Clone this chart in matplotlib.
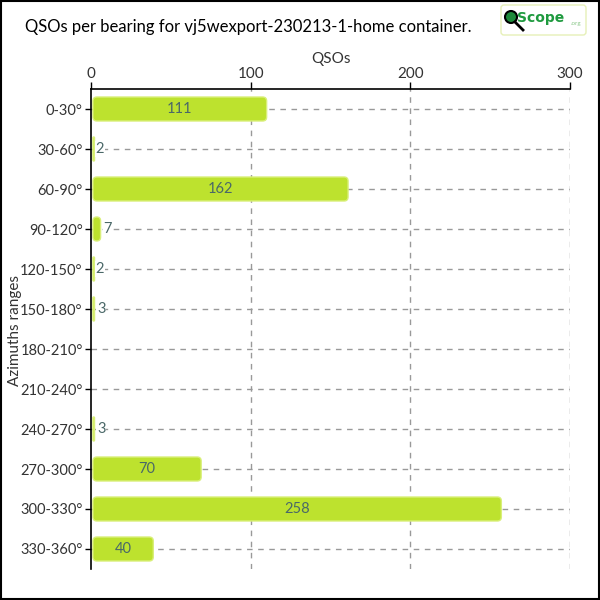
import matplotlib
matplotlib.use("Agg")
import matplotlib.pyplot as plt
from matplotlib.patches import FancyBboxPatch, Rectangle, Circle
import matplotlib.lines as mlines

categories = ["0-30°", "30-60°", "60-90°", "90-120°", "120-150°", "150-180°",
              "180-210°", "210-240°", "240-270°", "270-300°", "300-330°", "330-360°"]
values = [111, 2, 162, 7, 2, 3, 0, 0, 3, 70, 258, 40]
xticks = [0, 100, 200, 300]
title = "QSOs per bearing for vj5wexport-230213-1-home container."

plt.rcParams['font.family'] = ['Lato', 'DejaVu Sans']

BAR = "#bde22e"
EDGE = "#d9ef7a"
LBL = "#4a6868"
GRID = "#999999"

fig = plt.figure(figsize=(6, 6), dpi=100)
ax = fig.add_axes([91/600, 1 - 569/600, 479/600, 480/600])

ypos = list(range(len(categories)))
ax.set_xlim(0, 300)
ax.set_ylim(len(categories) - 0.5, -0.5)

# grid
for y in ypos:
    ax.axhline(y, color=GRID, lw=1, ls=(0, (4, 4)), zorder=0)
for x in xticks[1:]:
    ax.axvline(x, color=GRID, lw=1, ls=(0, (4, 4)), zorder=0)

bars = ax.barh(ypos, values, height=0.6, left=0, color=BAR)
px_x = 479 / 300.0
px_y = 40.0
for rect, v in zip(bars, values):
    rect.set_visible(False)
    if v <= 0:
        continue
    x0, y0 = rect.get_x(), rect.get_y()
    w, h = rect.get_width(), rect.get_height()
    xs = x0 + 1.2
    xe = max(x0 + w - 1.0, xs + 1.6 / px_x)
    ww = xe - xs
    r_px = min(4.0, ww * px_x / 2.0)
    rs = r_px / px_x
    p = FancyBboxPatch((xs, y0), ww, h,
                       boxstyle=f"round,pad=0,rounding_size={rs}",
                       mutation_aspect=(px_x / px_y),
                       facecolor=BAR, edgecolor=EDGE, lw=1, zorder=2)
    ax.add_patch(p)

for y, v in zip(ypos, values):
    if v <= 0:
        continue
    if v >= 20:
        ax.text(v / 2.0, y, str(v), ha="center", va="center",
                color=LBL, fontsize=10.5, zorder=3)
    else:
        ax.text(v + 0.8, y, str(v), ha="left", va="center",
                color=LBL, fontsize=10.5, zorder=3,
                bbox=dict(facecolor="white", edgecolor="none", pad=0.5))

ax.xaxis.set_ticks_position("top")
ax.xaxis.set_label_position("top")
ax.set_xticks(xticks)
ax.set_xticklabels([str(t) for t in xticks])
ax.set_yticks(ypos)
ax.set_yticklabels(categories)
ax.tick_params(axis="x", length=5, width=1, colors="black", labelcolor="#333333",
               labelsize=11, pad=1)
ax.tick_params(axis="y", length=4, width=1, colors="black", labelcolor="#333333",
               labelsize=10.5, pad=2)
for s in ["right", "bottom"]:
    ax.spines[s].set_visible(False)
ax.spines["top"].set_linewidth(1.2)
ax.spines["left"].set_linewidth(1.2)
ax.set_xlabel("QSOs", fontsize=11, color="#333333", labelpad=3)
fig.text(15/600, 1 - 330/600, "Azimuths ranges", fontsize=11, color="#333333",
         rotation=90, ha="center", va="center")

fig.text(25/600, 1 - 27/600, title, fontsize=12, color="black",
         ha="left", va="center")

# logo
lx0, ly0, lw_, lh_ = 501/600, 1 - 35/600, 85/600, 30/600
fig.patches.append(FancyBboxPatch((lx0, ly0), lw_, lh_,
                                  boxstyle="round,pad=0,rounding_size=0.005",
                                  transform=fig.transFigure, facecolor="white",
                                  edgecolor="#e6f0b8", lw=1))
fig.patches.append(Circle((511/600, 1 - 17/600), 6/600, transform=fig.transFigure,
                          facecolor="#1e8a3a", edgecolor="black", lw=1.5))
fig.lines.append(mlines.Line2D([515/600, 523/600], [1 - 22/600, 1 - 30/600],
                               transform=fig.transFigure, color="black", lw=2))
fig.text(517/600, 1 - 18/600, "Scope", fontsize=10, fontweight="bold",
         color="#1f9a3f", ha="left", va="center", family=["DejaVu Sans"])
fig.text(571/600, 1 - 23/600, ".org", fontsize=4.5, color="#8cc88c", ha="left", va="center")

fig.patches.append(Rectangle((0.001, 0.001), 0.998, 0.998, transform=fig.transFigure,
                             facecolor="none", edgecolor="black", lw=1.5))

fig.savefig("out.png", dpi=100)
